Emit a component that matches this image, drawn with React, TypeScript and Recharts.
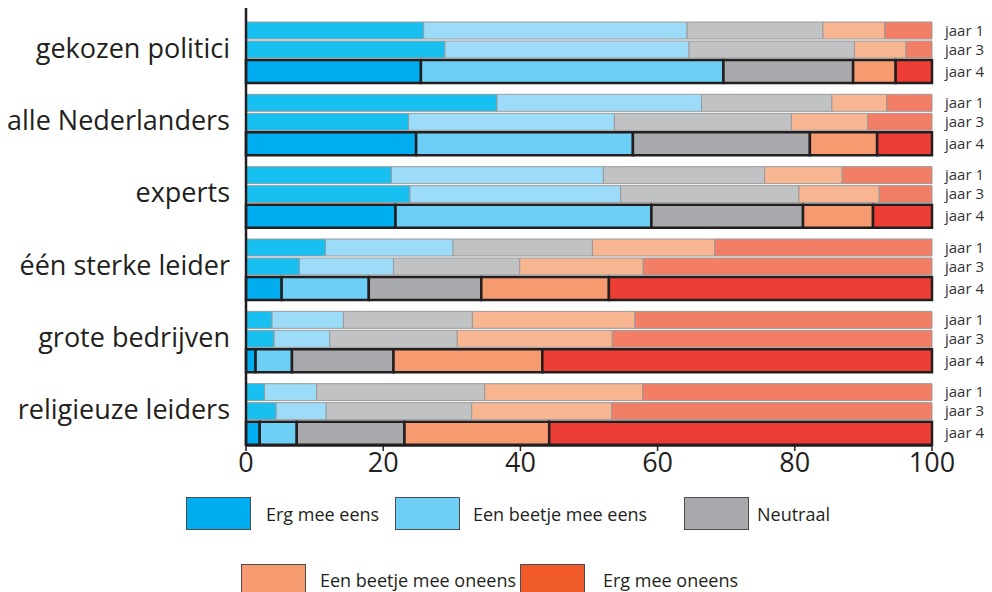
import { Bar, BarChart, LabelList, XAxis, YAxis } from 'recharts'

const categories = ['gekozen politici', 'alle Nederlanders', 'experts', 'één sterke leider', 'grote bedrijven', 'religieuze leiders']
const answers = ['Erg mee eens', 'Een beetje mee eens', 'Neutraal', 'Een beetje mee oneens', 'Erg mee oneens']
const years = ['jaar 1', 'jaar 3', 'jaar 4']
const xTicks = [0, 20, 40, 60, 80, 100]

// percentages per category, in answer order
const jaar1 = [
  [25.9, 38.4, 19.8, 9.0, 6.9],
  [36.6, 29.8, 19.0, 8.0, 6.6],
  [21.2, 30.9, 23.5, 11.3, 13.1],
  [11.6, 18.6, 20.3, 17.8, 31.7],
  [3.8, 10.4, 18.8, 23.7, 43.3],
  [2.7, 7.6, 24.5, 23.0, 42.2],
]
const jaar3 = [
  [29.0, 35.6, 24.1, 7.5, 3.8],
  [23.7, 30.0, 25.8, 11.1, 9.4],
  [23.9, 30.7, 26.0, 11.7, 7.7],
  [7.8, 13.7, 18.4, 18.0, 42.1],
  [4.1, 8.1, 18.6, 22.6, 46.6],
  [4.4, 7.3, 21.2, 20.4, 46.7],
]
const jaar4 = [
  [25.5, 44.1, 18.9, 6.2, 5.3],
  [24.8, 31.6, 25.8, 9.8, 8.0],
  [21.8, 37.3, 22.1, 10.2, 8.6],
  [5.2, 12.7, 16.4, 18.6, 47.1],
  [1.4, 5.3, 14.8, 21.7, 56.8],
  [2.0, 5.4, 15.7, 21.1, 55.8],
]

const LIGHT = ['#17c0f0', '#9cdcf8', '#c1c2c4', '#f7b592', '#f27e66']
const STRONG = ['#00aeef', '#6dcff6', '#a7a9ac', '#f69a6f', '#ec3e34']
const LEGEND = ['#00aeef', '#6dcff6', '#a7a9ac', '#f69a6f', '#f15a2b']
const TEXT = '#231f20'

const legendPos = [
  { box: [186, 497], text: [266, 514] },
  { box: [395, 497], text: [473, 514] },
  { box: [684, 497], text: [757, 514] },
  { box: [241, 564], text: [320, 580] },
  { box: [520, 564], text: [603, 580] },
]

const yearSeries = [jaar1, jaar3, jaar4]
const yearKeys = ['j1', 'j3', 'j4']

const data = categories.map((name, ci) => {
  const row: Record<string, string | number> = { name }
  yearSeries.forEach((series, yi) => {
    series[ci].forEach((v, ai) => {
      row[`${yearKeys[yi]}_${ai}`] = v
    })
  })
  return row
})

export default function App() {
  return (
    <div style={{ position: 'absolute', left: 0, top: 0, width: 992, height: 592, fontFamily: '"Open Sans", sans-serif', background: '#fff' }}>
      <BarChart
        width={992}
        height={490}
        data={data}
        layout="vertical"
        barGap={2}
        margin={{ top: 8, right: 60, bottom: 4, left: 0 }}
      >
        <XAxis
          type="number"
          domain={[0, 100]}
          ticks={xTicks}
          height={40}
          tick={{ fontSize: 27, fill: TEXT }}
          tickSize={5}
          tickLine={{ stroke: TEXT, strokeWidth: 1.5 }}
          axisLine={{ stroke: TEXT, strokeWidth: 1.5 }}
        />
        <YAxis
          type="category"
          dataKey="name"
          width={246}
          padding={{ top: 8, bottom: -4 }}
          tick={{ fontSize: 27, fill: TEXT, dy: -4 }}
          tickLine={false}
          tickMargin={10}
          axisLine={{ stroke: TEXT, strokeWidth: 2.5 }}
        />
        {yearKeys.map((yk, yi) =>
          answers.map((answer, ai) => {
            const strong = yi === 2
            return (
              <Bar
                key={`${yk}_${ai}`}
                dataKey={`${yk}_${ai}`}
                name={answer}
                stackId={yk}
                barSize={strong ? 23 : 17}
                fill={strong ? STRONG[ai] : LIGHT[ai]}
                stroke={strong ? '#231f20' : '#9a9a9a'}
                strokeWidth={strong ? 2.5 : 1}
                isAnimationActive={false}
              >
                {ai === answers.length - 1 && (
                  <LabelList
                    dataKey={`${yk}_${ai}`}
                    position="right"
                    offset={13}
                    formatter={() => years[yi]}
                    style={{ fontSize: 15, fill: '#333' }}
                  />
                )}
              </Bar>
            )
          })
        )}
      </BarChart>

      {answers.map((answer, i) => (
        <div key={answer}>
          <div
            style={{
              position: 'absolute',
              left: legendPos[i].box[0],
              top: legendPos[i].box[1],
              width: 63,
              height: 31,
              background: LEGEND[i],
              border: '1.5px solid #4d4d4f',
            }}
          />
          <div
            style={{
              position: 'absolute',
              left: legendPos[i].text[0],
              top: legendPos[i].text[1] - 13,
              fontSize: 18,
              lineHeight: '26px',
              color: TEXT,
              whiteSpace: 'nowrap',
            }}
          >
            {answer}
          </div>
        </div>
      ))}
    </div>
  )
}
